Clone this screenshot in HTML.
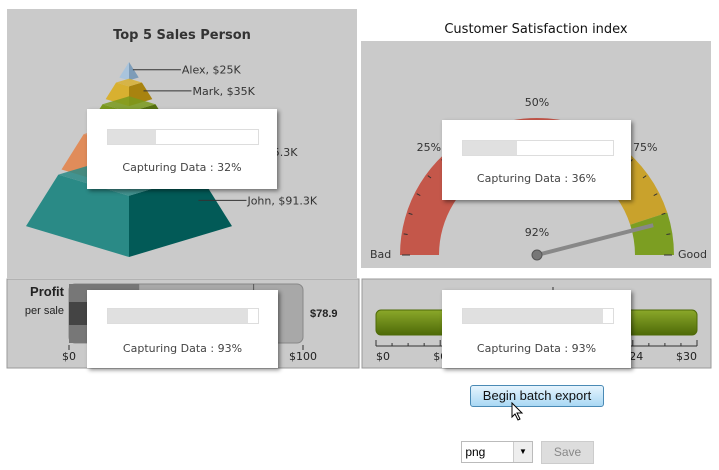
<!DOCTYPE html>
<html><head><meta charset="utf-8"><style>
body{margin:0;width:719px;height:470px;background:#fff;font-family:"Liberation Sans","DejaVu Sans",sans-serif;position:relative;overflow:hidden}
svg{position:absolute;left:0;top:0}
.pop{position:absolute;background:#fff;box-shadow:2px 2px 4px rgba(0,0,0,.45);font-family:"DejaVu Sans",sans-serif;font-size:11px;color:#444;text-align:center}
.pb{position:absolute;left:20px;top:20px;width:150px;height:14px;border:1px solid #ddd;background:#fff}
.pf{height:100%;background:#e0e0e0}
.pt{position:absolute;left:0;right:0;top:52px}
.btn{position:absolute;left:470px;top:385px;width:132px;height:20px;border:1px solid #4a8ab5;border-radius:3px;background:linear-gradient(#e6f4fd,#a9d8f4);font-size:13px;line-height:20px;text-align:center;color:#111}
</style></head><body>
<svg width="719" height="470" id="s">
<defs>
<linearGradient id="gb" x1="0" y1="0" x2="0" y2="1"><stop offset="0" stop-color="#8ba82a"/><stop offset="1" stop-color="#4e6a08"/></linearGradient>
</defs>
<rect x="7" y="9" width="350" height="269" fill="#cacaca"/>
<text x="182" y="39" text-anchor="middle" font-size="13" font-weight="bold" fill="#333" font-family="DejaVu Sans">Top 5 Sales Person</text>
<g id="pyr"></g>
<text x="536" y="33" text-anchor="middle" font-size="13" fill="#111" font-family="DejaVu Sans">Customer Satisfaction index</text>
<rect x="361" y="41" width="350" height="227" fill="#cacaca"/>
<g id="gauge"></g>
<rect x="7" y="279" width="352" height="89" fill="#cacaca" stroke="#999"/>
<text x="64" y="296" text-anchor="end" font-size="13" font-weight="bold" fill="#222">Profit</text>
<text x="64" y="314" text-anchor="end" font-size="11" fill="#222">per sale</text>
<g id="lin"></g>
<rect x="362" y="279" width="349" height="89" fill="#cacaca" stroke="#999"/>
<g id="bul"></g>
</svg>
<div class="pop" style="left:87px;top:109px;width:190px;height:80px"><div class="pb"><div class="pf" style="width:32%"></div></div><div class="pt">Capturing Data : 32%</div></div>
<div class="pop" style="left:442px;top:120px;width:189px;height:80px"><div class="pb"><div class="pf" style="width:36%"></div></div><div class="pt">Capturing Data : 36%</div></div>
<div class="pop" style="left:87px;top:290px;width:191px;height:78px"><div class="pb" style="top:18px"><div class="pf" style="width:93%"></div></div><div class="pt" style="top:52px">Capturing Data : 93%</div></div>
<div class="pop" style="left:442px;top:290px;width:189px;height:78px"><div class="pb" style="top:18px"><div class="pf" style="width:93%"></div></div><div class="pt" style="top:52px">Capturing Data : 93%</div></div>
<div class="btn">Begin batch export</div>
<svg width="14" height="20" style="left:511px;top:402px"><polygon points="1,1 1,15 4,12 7,18 9,17 6,11 11,11" fill="#fff" stroke="#000"/></svg>
<div style="position:absolute;left:461px;top:441px;width:70px;height:20px;border:1px solid #bbb;background:#fff;font-size:12px;line-height:20px">&nbsp;png<span style="position:absolute;right:0;top:0;width:18px;height:20px;background:#eee;border-left:1px solid #ccc;text-align:center;font-size:8px">▼</span></div>
<div style="position:absolute;left:541px;top:441px;width:51px;height:21px;background:#ddd;border:1px solid #ccc;color:#888;font-size:12px;line-height:21px;text-align:center">Save</div>
<script>
const NS="http://www.w3.org/2000/svg";
function mk(p,t,a){const e=document.createElementNS(NS,t);for(const k in a)e.setAttribute(k,a[k]);p.appendChild(e);return e;}
const pyrNames=["Alex","Mark","Tom","Peter","John"];
const pyrLabels=["$25K","$35K","$48.3K","$65.3K","$91.3K"];
const pyrValues=[25,35,48.3,65.3,91.3];
const pyrColors=[["#a9c4dc","#7d9cb8"],["#d8b030","#a8830f"],["#7a9a1c","#557010"],["#e08c5a","#b8683a"],["#2a8a86","#025a57"]];
const pyr=document.getElementById('pyr');
const apexY=62,baseY=257,cx=129,halfW=103;
const total=pyrValues.reduce((a,b)=>a+b,0);
let acc=0;const gap=6;
pyrValues.forEach((v,i)=>{
  const y0=apexY+(baseY-apexY)*acc/total;acc+=v;const y1=apexY+(baseY-apexY)*acc/total;
  const t0=y0+(i?gap:0);
  const w0=halfW*(t0-apexY)/(baseY-apexY),w1=halfW*(y1-apexY)/(baseY-apexY);
  const d=0.3;
  const g=mk(pyr,'g',{});
  
  
  mk(g,'polygon',{points:`${cx-w0},${t0-w0*d} ${cx},${t0} ${cx},${y1} ${cx-w1},${y1-w1*d}`,fill:pyrColors[i][0]});
  mk(g,'polygon',{points:`${cx},${t0} ${cx+w0},${t0-w0*d} ${cx+w1},${y1-w1*d} ${cx},${y1}`,fill:pyrColors[i][1]});
  mk(g,'polygon',{points:`${cx-w0},${t0-w0*d} ${cx},${t0-2*w0*d} ${cx+w0},${t0-w0*d} ${cx},${t0}`,fill:pyrColors[i][0],opacity:.85});
  const ly=(t0+y1)/2-(w0+w1)/2*d;const lx=cx+(w0+w1)/2*0.8;
  mk(pyr,'line',{x1:lx,y1:ly,x2:lx+48,y2:ly,stroke:'#333'});
  const t=mk(pyr,'text',{x:lx+49,y:ly+4,'font-size':11,fill:'#333','font-family':'DejaVu Sans'});
  
  
  t.textContent=pyrNames[i]+", "+pyrLabels[i];
});
const gaugeBands=[0,70,90,100];
const gaugeBandColors=["#c4574a","#c9a22c","#7c9e22"];
const gaugeTicks=[25,50,75];
const gaugeValue=92;
const G=document.getElementById('gauge');
const gx=537,gy=255,R=137,r=98;
const ang=v=>Math.PI*(1-v/100);
const pt=(v,rad)=>[gx+rad*Math.cos(ang(v)),gy-rad*Math.sin(ang(v))];
for(let i=0;i<3;i++){
  const a=pt(gaugeBands[i],R),b=pt(gaugeBands[i+1],R),c=pt(gaugeBands[i+1],r),d=pt(gaugeBands[i],r);
  const p=mk(G,'path',{d:`M${a} A${R},${R} 0 0 1 ${b} L${c} A${r},${r} 0 0 0 ${d}Z`,fill:gaugeBandColors[i]});
  
  
}
for(let v=0;v<=100;v+=5){const a=pt(v,R-2),b=pt(v,R-(v%25?6:10));mk(G,'line',{x1:a[0],y1:a[1],x2:b[0],y2:b[1],stroke:'#333'});}
gaugeTicks.forEach(v=>{const p=pt(v,R+16);const t=mk(G,'text',{x:p[0],y:p[1]+4,'text-anchor':'middle','font-size':11,fill:'#333','font-family':'DejaVu Sans'});t.textContent=v+'%';});
[['Bad',370,258],['Good',678,258]].forEach(([s,x,y])=>{const t=mk(G,'text',{x,y,'font-size':11,fill:'#333','font-family':'DejaVu Sans'});t.textContent=s;});
const np=pt(gaugeValue,R-17);
const nd=mk(G,'line',{x1:gx,y1:gy,x2:np[0],y2:np[1],stroke:'#888','stroke-width':4});

mk(G,'circle',{cx:gx,cy:gy,r:5,fill:'#777',stroke:'#555'});
const vt=mk(G,'text',{x:gx,y:236,'text-anchor':'middle','font-size':11,fill:'#333','font-family':'DejaVu Sans'});
vt.textContent=gaugeValue+'%';
const linMax=100,linValue=78.9;
const L=document.getElementById('lin');
const lx0=69,lx1=303,ls=v=>lx0+(lx1-lx0)*v/linMax;
mk(L,'rect',{x:lx0,y:284,width:lx1-lx0,height:59,rx:6,fill:'#a8a8a8',stroke:'#888'});
mk(L,'rect',{x:lx0,y:284,width:ls(30)-lx0,height:59,fill:'#777'});
mk(L,'rect',{x:lx0,y:302,width:ls(30)-lx0,height:23,fill:'#444'});
const lm=mk(L,'line',{x1:ls(linValue),y1:284,x2:ls(linValue),y2:343,stroke:'#555'});

[[0,'$0'],[100,'$100']].forEach(([v,s])=>{mk(L,'line',{x1:ls(v),y1:345,x2:ls(v),y2:350,stroke:'#333'});const t=mk(L,'text',{x:ls(v),y:360,'text-anchor':'middle','font-size':11,fill:'#222','font-family':'DejaVu Sans'});t.textContent=s;});
const pv=mk(L,'text',{x:310,y:317,'font-size':11,'font-weight':'bold',fill:'#222'});pv.textContent='$'+linValue;
const bulMax=30,bulValue=30;
const bulTicks=[0,6,12,18,24,30];
const B=document.getElementById('bul');
const bx0=376,bx1=697,bs=v=>bx0+(bx1-bx0)*v/bulMax;
const bb=mk(B,'rect',{x:bx0,y:310,width:bs(bulValue)-bx0,height:25,rx:5,fill:'url(#gb)',stroke:'#4e6a08'});

mk(B,'line',{x1:bx0,y1:346,x2:bx1,y2:346,stroke:'#333'});
for(let v=0;v<=bulMax;v+=1.5){mk(B,'line',{x1:bs(v),y1:346,x2:bs(v),y2:v%6?343:340,stroke:'#333'});}
bulTicks.forEach(v=>{const t=mk(B,'text',{x:bs(v),y:360,'text-anchor':v==0?'start':v==bulMax?'end':'middle','font-size':11,fill:'#222','font-family':'DejaVu Sans'});t.textContent='$'+v;});
mk(B,'line',{x1:553,y1:287,x2:553,y2:292,stroke:'#333'});
</script>
</body></html>
